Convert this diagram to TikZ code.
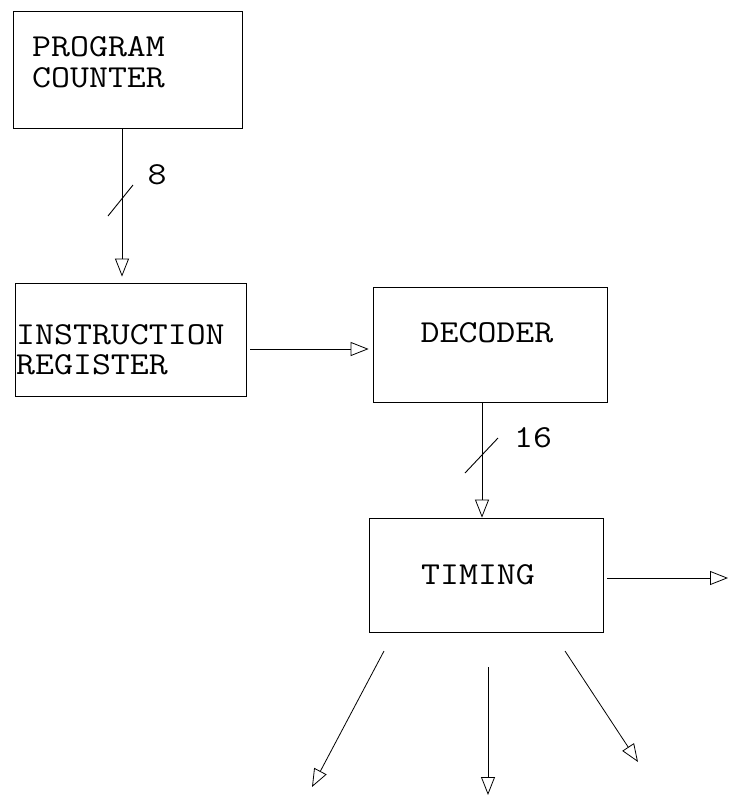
\documentclass[tikz,border=0pt]{standalone}
\usepackage{fontspec}
\usetikzlibrary{arrows.meta}
\newcommand{\widetxt}[1]{\scalebox{1.15}[1]{#1}}
\begin{document}
\begin{tikzpicture}[x=1pt,y=-1pt,
  box/.style={draw, line width=0.8pt, rectangle, inner sep=0pt},
  txt/.style={font=\ttfamily\fontsize{32}{33}\selectfont, inner sep=0pt},
  conn/.style={line width=0.8pt, -{Triangle[open,length=18pt,width=14pt,line width=0.8pt]}},
  tick/.style={line width=0.9pt}
]
\useasboundingbox (0,0) rectangle (729,796);
% boxes
\node[box, minimum width=229pt, minimum height=117pt] (pc) at (127.5,69.5) {};
\node[box, minimum width=231pt, minimum height=113pt] (ir) at (130.5,339.5) {};
\node[box, minimum width=234pt, minimum height=115pt] (dec) at (490,344.5) {};
\node[box, minimum width=234pt, minimum height=114pt] (tim) at (486,575) {};
% texts
\node[txt, anchor=west] (pct1) at (32,47) {\widetxt{PROGRAM}};
\node[txt, anchor=west] (pct2) at (32,78) {\widetxt{COUNTER}};
\node[txt, anchor=west] (irt1) at (16,335) {\widetxt{INSTRUCTION}};
\node[txt, anchor=west] (irt2) at (16,365) {\widetxt{REGISTER}};
\node[txt] (dect) at (487,333) {\widetxt{DECODER}};
\node[txt] (timt) at (478,575) {\widetxt{TIMING}};
% connectors
\draw[conn, shorten >=6pt] (pc.south -| 122,0) -- (ir.north -| 122,0);
\draw[conn, shorten <=4pt, shorten >=4pt] (ir.east |- 0,349) -- (dec.west |- 0,349);
\draw[conn] (dec.south -| 482,0) -- (tim.north -| 482,0);
% bus ticks and labels
\draw[tick] (108,216) -- (133,185);
\node[txt] (w8) at (157,175) {\widetxt{8}};
\draw[tick] (465,473) -- (498,438);
\node[txt] (w16) at (533,438) {\widetxt{16}};
% outputs of timing
\coordinate (o0) at (728,578);
\coordinate (s1) at (384,651);
\coordinate (o1) at (312,787);
\coordinate (s2) at (488,667);
\coordinate (o2) at (488,795);
\coordinate (s3) at (565,651);
\coordinate (o3) at (638,762);
\draw[conn, shorten <=4pt] (tim.east |- 0,578) -- (o0);
\draw[conn] (s1) -- (o1);
\draw[conn] (s2) -- (o2);
\draw[conn] (s3) -- (o3);
\end{tikzpicture}
\end{document}
